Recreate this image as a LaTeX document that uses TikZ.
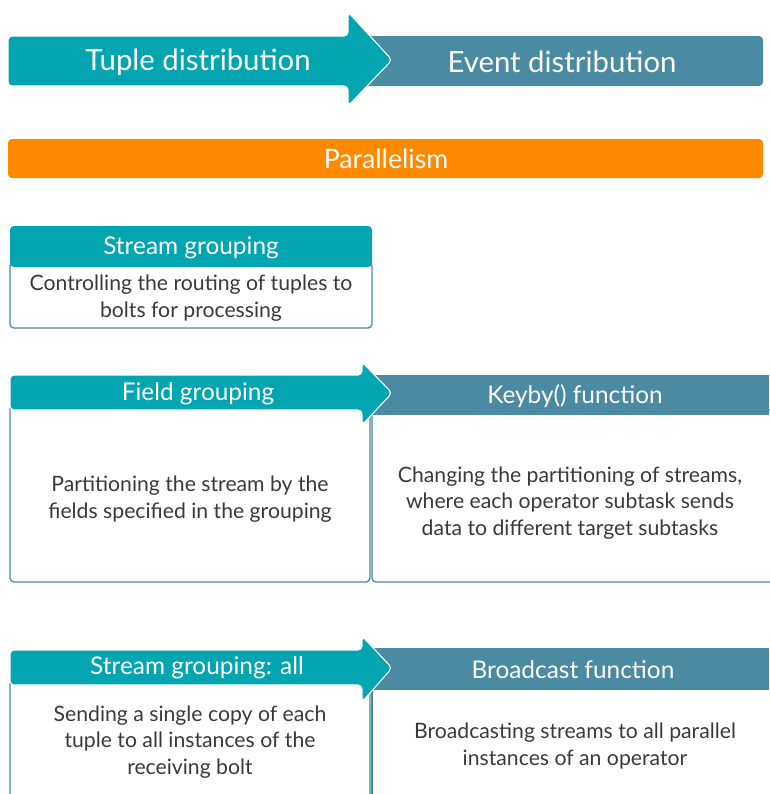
\documentclass[tikz,border=0pt]{standalone}
\usepackage{fontspec}
\setmainfont{Lato}
\definecolor{teal1}{HTML}{03A5B0}
\definecolor{slate1}{HTML}{4A8AA3}
\definecolor{orange1}{HTML}{FF8A00}
\definecolor{text1}{HTML}{3A3A3A}
\begin{document}
\begin{tikzpicture}[x=0.75pt,y=-0.75pt,
  tealfill/.style={fill=teal1,draw=white,line width=0.8pt,rounded corners=3pt},
  slatefill/.style={fill=slate1,rounded corners=3pt},
  boxline/.style={draw=slate1,line width=1pt,fill=white,rounded corners=3pt},
  titletxt/.style={text=white,font=\fontsize{22}{26}\selectfont},
  headtxt/.style={text=white,font=\fontsize{18.3}{22}\selectfont},
  partxt/.style={text=white,font=\fontsize{20}{24}\selectfont},
  bodytxt/.style={text=text1,align=center,font=\fontsize{15.9}{19.8}\selectfont}]
\useasboundingbox (0,0) rectangle (769,794);
% top row
\fill[slatefill] (360,36) rectangle (763,86);
\draw[tealfill] (8,36) -- (348,36) -- (348,12) -- (392,60) -- (348,106) -- (348,86) -- (8,86) -- cycle;
\node[titletxt] (tuple) at (198,62) {Tuple distribution};
\node[titletxt] (event) at (562,62) {Event distribution};
% parallelism
\fill[orange1,rounded corners=3pt] (8,139) rectangle (763,178);
\node[partxt] (par) at (386,159) {Parallelism};
% stream grouping
\draw[boxline] (10,262) rectangle (372,328);
\fill[teal1,rounded corners=3pt] (10,226) rectangle (372,267);
\node[headtxt] (sg) at (191,248) {Stream grouping};
\node[bodytxt] (sgtxt) at (191,298) {Controlling the routing of tuples to\\bolts for processing};
% field grouping row
\draw[boxline] (10,405) rectangle (370,582);
\draw[boxline] (372,410) rectangle (775,582);
\fill[slate1] (366,375) rectangle (769,415);
\draw[tealfill] (10,375) -- (362,375) -- (362,362) -- (392,393) -- (362,425) -- (362,410) -- (10,410) -- cycle;
\node[headtxt] (fg) at (198,394) {Field grouping};
\node[headtxt] (kb) at (575,396) {Keyby() function};
\node[bodytxt] (fgtxt) at (190,499) {Partitioning the stream by the\\fields specified in the grouping};
\node[bodytxt] (kbtxt) at (570,503) {Changing the partitioning of streams,\\where each operator subtask sends\\data to different target subtasks};
% broadcast row
\draw[boxline] (10,680) rectangle (370,810);
\draw[slate1,line width=1pt] (372,685) -- (372,794);
\fill[slate1] (366,648) rectangle (769,690);
\draw[tealfill] (10,650) -- (362,650) -- (362,636) -- (392,668) -- (362,702) -- (362,685) -- (10,685) -- cycle;
\node[headtxt] (sga) at (197,668) {Stream grouping: all};
\node[headtxt] (bc) at (573,670) {Broadcast function};
\node[bodytxt] (sgatxt) at (190,742) {Sending a single copy of each\\tuple to all instances of the\\receiving bolt};
\node[bodytxt] (bctxt) at (575,746) {Broadcasting streams to all parallel\\instances of an operator};
\end{tikzpicture}
\end{document}
